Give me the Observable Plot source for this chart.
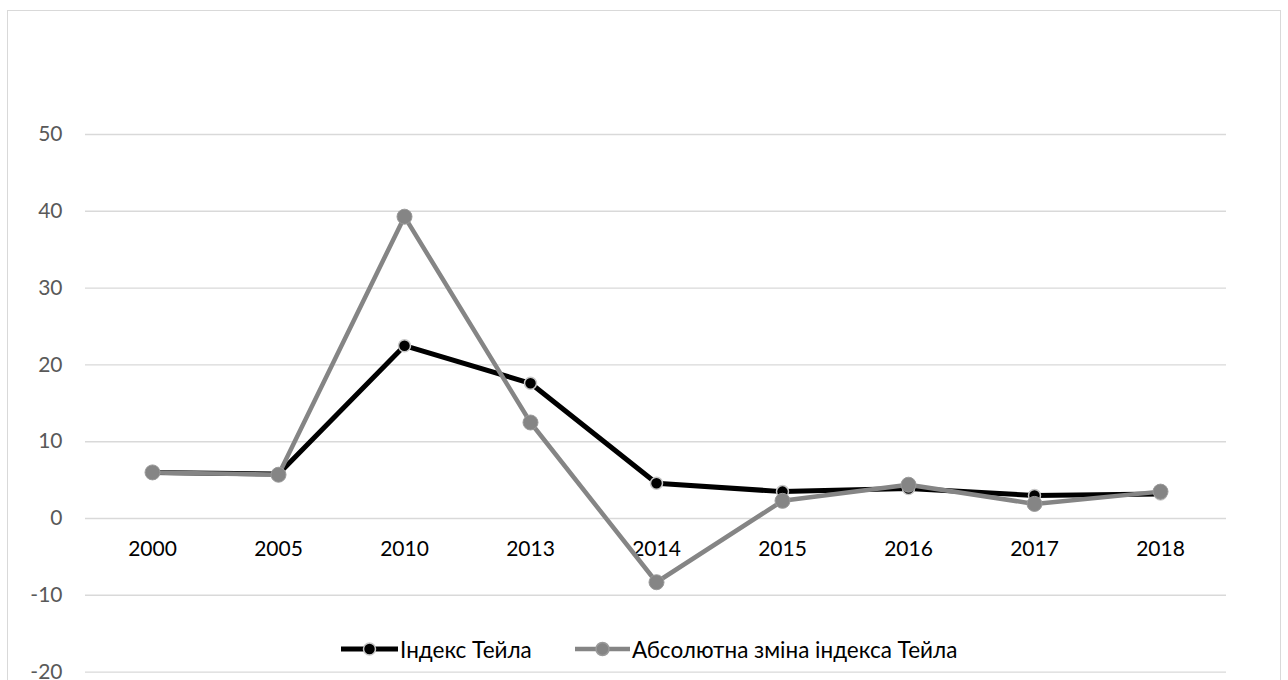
<!DOCTYPE html>
<html>
<head>
<meta charset="utf-8">
<script src="https://cdn.jsdelivr.net/npm/d3@7"></script>
<script src="https://cdn.jsdelivr.net/npm/@observablehq/plot@0.6"></script>
<style>
  html, body { margin: 0; padding: 0; background: #fff; overflow: hidden; }
  #wrap { position: relative; width: 1288px; height: 680px; font-family: Lato, "Open Sans", sans-serif; }
  #border { position: absolute; left: 7px; top: 10px; width: 1274px; height: 700px; border: 1.5px solid #d9d9d9; box-sizing: border-box; pointer-events: none; }
  #chart { position: absolute; left: 0; top: 0; }
  .legend { position: absolute; top: 634px; height: 30px; display: flex; align-items: center; font-size: 22.5px; color: #000; white-space: nowrap; }
  .legend svg { display: block; }
</style>
</head>
<body>
<div id="wrap">
  <div id="chart"></div>
  <div id="border"></div>
  <div class="legend" id="leg1" style="left:341px"></div>
  <div class="legend" id="leg2" style="left:575px"></div>
</div>
<script>
// Data
const years = ["2000", "2005", "2010", "2013", "2014", "2015", "2016", "2017", "2018"];
const theilIndex = [6.0, 5.8, 22.5, 17.6, 4.6, 3.5, 3.9, 3.0, 3.2];
const absChange = [6.0, 5.7, 39.3, 12.5, -8.3, 2.3, 4.4, 1.9, 3.5];
const yTicks = [-20, -10, 0, 10, 20, 30, 40, 50];
const seriesNames = ["Індекс Тейла", "Абсолютна зміна індекса Тейла"];

const black = years.map((y, i) => ({year: y, value: theilIndex[i]}));
const gray = years.map((y, i) => ({year: y, value: absChange[i]}));

const GRAY = "#858585";

const chart = Plot.plot({
  width: 1288,
  height: 680,
  marginLeft: 85,
  marginRight: 62,
  marginTop: 134,
  marginBottom: 8.4,
  style: {fontFamily: "Lato, 'Open Sans', sans-serif", fontSize: "21px", background: "transparent"},
  x: {type: "point", domain: years, axis: null, padding: 0.5},
  y: {domain: [-20, 50], axis: null},
  marks: [
    Plot.gridY(yTicks, {stroke: "#d9d9d9", strokeOpacity: 1, strokeWidth: 1.4}),
    Plot.axisY(yTicks, {tickSize: 0, tickPadding: 23, fill: "#595959", fontSize: 21, label: null, tickFormat: d => String(d)}),
    Plot.text(years, {x: d => d, y: () => 0, dy: 31, fill: "#000", fontSize: 21, text: d => d}),
    Plot.line(black, {x: "year", y: "value", stroke: "#000", strokeWidth: 5}),
    Plot.dot(black, {x: "year", y: "value", r: 6, fill: "#000", stroke: "#c8c8c8", strokeWidth: 1.5}),
    Plot.line(gray, {x: "year", y: "value", stroke: GRAY, strokeWidth: 4.5}),
    Plot.dot(gray, {x: "year", y: "value", r: 7.5, fill: GRAY, stroke: "#9a9a9a", strokeWidth: 1})
  ]
});
document.getElementById("chart").appendChild(chart);

function swatch(color, w, r, outline, lw) {
  const ns = "http://www.w3.org/2000/svg";
  const s = document.createElementNS(ns, "svg");
  s.setAttribute("width", w); s.setAttribute("height", 20);
  const l = document.createElementNS(ns, "line");
  l.setAttribute("x1", 0); l.setAttribute("x2", w); l.setAttribute("y1", 10); l.setAttribute("y2", 10);
  l.setAttribute("stroke", color); l.setAttribute("stroke-width", lw);
  const c = document.createElementNS(ns, "circle");
  c.setAttribute("cx", w / 2); c.setAttribute("cy", 10); c.setAttribute("r", r);
  c.setAttribute("fill", color); c.setAttribute("stroke", outline); c.setAttribute("stroke-width", 1.5);
  s.appendChild(l); s.appendChild(c);
  return s;
}
function legendItem(id, color, w, r, outline, lw, label) {
  const el = document.getElementById(id);
  el.appendChild(swatch(color, w, r, outline, lw));
  const t = document.createElement("span");
  t.textContent = label;
  t.style.marginLeft = "2px";
  el.appendChild(t);
}
legendItem("leg1", "#000", 57, 6, "#c8c8c8", 5, seriesNames[0]);
legendItem("leg2", GRAY, 55, 6.5, "#9a9a9a", 4.5, seriesNames[1]);
</script>
</body>
</html>
